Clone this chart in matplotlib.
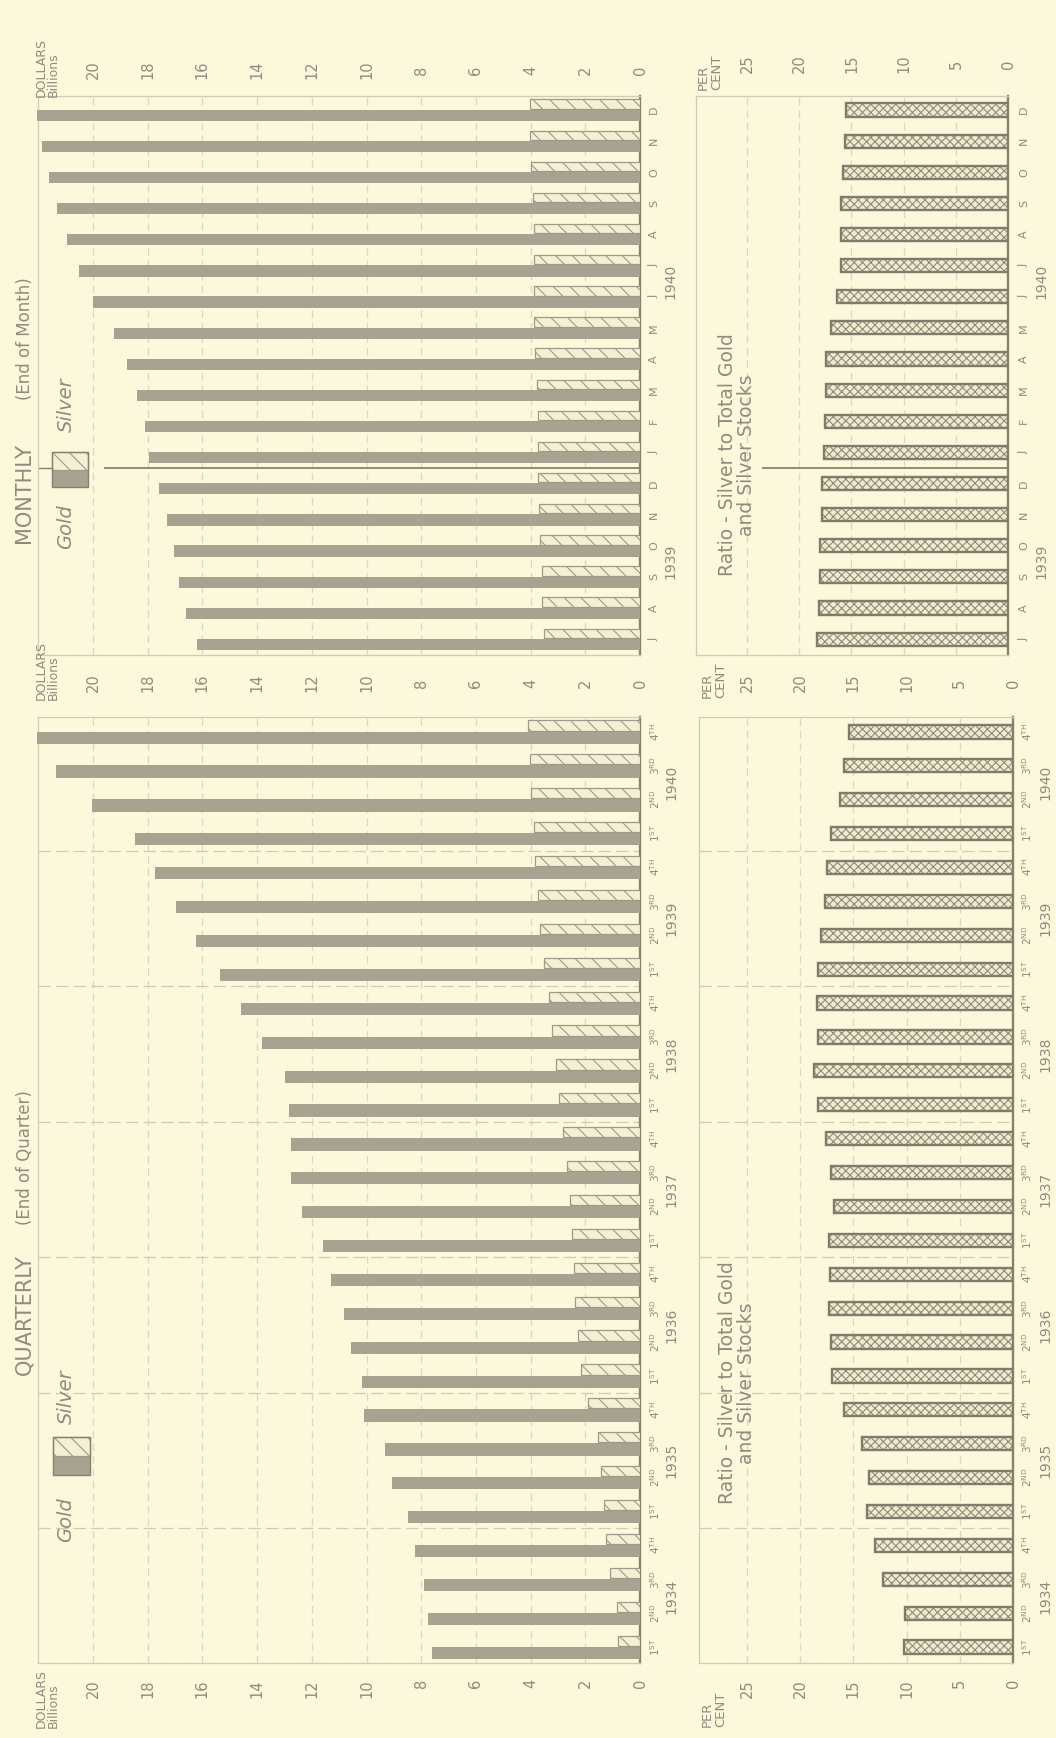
import numpy as np
import matplotlib
matplotlib.use('Agg')
import matplotlib.pyplot as plt
from matplotlib.patches import Rectangle
from matplotlib.transforms import blended_transform_factory as btf

# ---------------- data ----------------
quarters = ['1ST', '2ND', '3RD', '4TH']
q_years = ['1934', '1935', '1936', '1937', '1938', '1939', '1940']
q_gold = [7.60, 7.75, 7.90, 8.22,
          8.50, 9.06, 9.32, 10.10,
          10.18, 10.58, 10.83, 11.30,
          11.58, 12.35, 12.77, 12.77,
          12.82, 12.98, 13.83, 14.58,
          15.35, 16.22, 16.98, 17.75,
          18.48, 20.03, 21.35, 22.05]
q_silver = [0.80, 0.85, 1.08, 1.24,
            1.33, 1.44, 1.55, 1.90,
            2.16, 2.25, 2.36, 2.42,
            2.48, 2.56, 2.68, 2.80,
            2.95, 3.07, 3.20, 3.34,
            3.50, 3.64, 3.72, 3.84,
            3.88, 3.98, 4.02, 4.10]
q_ratio = [10.2, 10.1, 12.25, 13.0,
           13.7, 13.5, 14.2, 15.9,
           17.05, 17.1, 17.3, 17.2,
           17.25, 16.8, 17.1, 17.6,
           18.3, 18.7, 18.3, 18.4,
           18.3, 18.0, 17.7, 17.5,
           17.1, 16.3, 15.9, 15.4]

months = ['J', 'A', 'S', 'O', 'N', 'D', 'J', 'F', 'M', 'A', 'M', 'J',
          'J', 'A', 'S', 'O', 'N', 'D']
m_years = ['1939', '1940']
m_gold = [16.2, 16.6, 16.85, 17.05, 17.3, 17.6, 17.95, 18.1, 18.4, 18.75,
          19.25, 20.0, 20.5, 20.95, 21.3, 21.6, 21.85, 22.05]
m_silver = [3.50, 3.58, 3.58, 3.66, 3.70, 3.74, 3.74, 3.74, 3.77, 3.83,
            3.86, 3.89, 3.89, 3.89, 3.92, 3.97, 4.02, 4.03]
m_ratio = [18.3, 18.1, 18.0, 18.0, 17.8, 17.8, 17.6, 17.5, 17.4, 17.4,
           17.0, 16.4, 16.0, 16.0, 16.0, 15.8, 15.6, 15.5]

dollar_ticks = [0, 2, 4, 6, 8, 10, 12, 14, 16, 18, 20]
pct_ticks = [0, 5, 10, 15, 20, 25]

# ---------------- style ----------------
W, H = 1056, 1738
BG = '#fbf8dc'
TXT = '#8e8c7e'
GOLD = '#a6a391'
SFILL = '#f3f0d4'
SHATCH = '#9d9a88'
RFILL = '#eeebcf'
RHATCH = '#8f8c7b'
REDGE = '#7f7c6c'
AXIS = '#85826f'
LIGHT = '#cfccb4'
GRID = '#dbd8c0'

plt.rcParams['font.family'] = ['DejaVu Sans']
plt.rcParams['hatch.linewidth'] = 0.8

fig = plt.figure(figsize=(W / 100, H / 100), dpi=100, facecolor=BG)


def fx(x):
    return x / W


def fy(y):
    return 1 - y / H


def add_ax(l, r, t, b):
    ax = fig.add_axes([fx(l), fy(b), (r - l) / W, (b - t) / H])
    ax.set_facecolor('none')
    ax.set_xticks([])
    ax.set_yticks([])
    ax.spines['right'].set_color(AXIS)
    ax.spines['right'].set_linewidth(1.7)
    for s in ['top', 'left', 'bottom']:
        ax.spines[s].set_color(LIGHT)
        ax.spines[s].set_linewidth(0.9)
    return ax


# axes: quarterly dollars, quarterly ratio, monthly dollars, monthly ratio
qd = add_ax(38.3, 640, 717, 1663)
qd.set_xlim(22.0, 0)
qd.set_ylim(-0.47, 27.44)
qr = add_ax(699, 1013, 717, 1663)
qr.set_xlim(29.5, 0)
qr.set_ylim(-0.47, 27.44)
md = add_ax(38.3, 640, 96, 655)
md.set_xlim(22.0, 0)
md.set_ylim(-0.51, 17.45)
mr = add_ax(696, 1008, 96, 655)
mr.set_xlim(29.9, 0)
mr.set_ylim(-0.51, 17.45)

# gridlines
for ax in (qd, md):
    for v in dollar_ticks[1:]:
        ax.axvline(v, color=GRID, lw=0.9, ls=(0, (6, 4)), zorder=1)
for ax in (qr, mr):
    for v in pct_ticks[1:]:
        ax.axvline(v, color=GRID, lw=0.9, ls=(0, (6, 4)), zorder=1)

# year boundaries (quarterly)
for ax in (qd, qr):
    for k in range(1, len(q_years)):
        ax.axhline(4 * k - 0.5, color=LIGHT, lw=0.9, ls=(0, (10, 4)), zorder=1)
# Dec/Jan boundary (monthly)
md.hlines(5.5, 0, 19.6, color=AXIS, lw=1.3, zorder=2)
md.hlines(5.5, 21.2, 22.0, color=AXIS, lw=1.0, zorder=2)
mr.hlines(5.5, 0, 23.6, color=AXIS, lw=1.3, zorder=2)


def draw_dollar(ax, gold, silver):
    idx = np.arange(len(gold))
    ax.barh(idx - 0.17, gold, height=0.36, color=GOLD, edgecolor='none',
            clip_on=False, zorder=3)
    ax.barh(idx + 0.19, silver, height=0.30, color=SFILL, edgecolor=SHATCH,
            hatch='\\\\', linewidth=0.9, zorder=3)


def draw_ratio(ax, ratio, h):
    idx = np.arange(len(ratio))
    ax.barh(idx, ratio, height=h, color=RFILL, edgecolor=RHATCH,
            hatch='xxxx', linewidth=0, zorder=3)
    ax.barh(idx, ratio, height=h, fill=False, edgecolor=REDGE,
            linewidth=1.7, zorder=4)


draw_dollar(qd, q_gold, q_silver)
draw_dollar(md, m_gold, m_silver)
draw_ratio(qr, q_ratio, 0.39)
draw_ratio(mr, m_ratio, 0.42)

# category labels
q_labels = [r'%s$^{\mathregular{%s}}$' % (q[0], q[1:]) for q in quarters]
for i in range(len(q_gold)):
    for ax, xp in ((qd, 655), (qr, 1027)):
        ax.text(fx(xp), i, q_labels[i % 4], transform=btf(fig.transFigure, ax.transData),
                rotation=90, ha='center', va='center', fontsize=7.5, color=TXT)
for k, yr in enumerate(q_years):
    for ax, xp in ((qd, 671), (qr, 1045)):
        ax.text(fx(xp), 4 * k + 1.5, yr, transform=btf(fig.transFigure, ax.transData),
                rotation=90, ha='center', va='center', fontsize=10, color=TXT)
for i, m in enumerate(months):
    for ax, xp in ((md, 654), (mr, 1024)):
        ax.text(fx(xp), i, m, transform=btf(fig.transFigure, ax.transData),
                rotation=90, ha='center', va='center', fontsize=8, color=TXT)
for yr, pos in zip(m_years, [2.5, 11.5]):
    for ax, xp in ((md, 670), (mr, 1041)):
        ax.text(fx(xp), pos, yr, transform=btf(fig.transFigure, ax.transData),
                rotation=90, ha='center', va='center', fontsize=10, color=TXT)

# value tick labels
for v in dollar_ticks:
    qd.text(v, fy(1679), str(v), transform=btf(qd.transData, fig.transFigure),
            rotation=90, ha='center', va='top', fontsize=10.5, color=TXT)
    qd.text(v, fy(683), str(v), transform=btf(qd.transData, fig.transFigure),
            rotation=90, ha='center', va='center', fontsize=10.5, color=TXT)
    md.text(v, fy(70), str(v), transform=btf(md.transData, fig.transFigure),
            rotation=90, ha='center', va='center', fontsize=10.5, color=TXT)
for v in pct_ticks:
    qr.text(v, fy(1679), str(v), transform=btf(qr.transData, fig.transFigure),
            rotation=90, ha='center', va='top', fontsize=10.5, color=TXT)
    qr.text(v, fy(683), str(v), transform=btf(qr.transData, fig.transFigure),
            rotation=90, ha='center', va='center', fontsize=10.5, color=TXT)
    mr.text(v, fy(64), str(v), transform=btf(mr.transData, fig.transFigure),
            rotation=90, ha='center', va='center', fontsize=10.5, color=TXT)

# unit labels
for yb in (1728, 700, 97):
    fig.text(fx(47), fy(yb), 'DOLLARS\nBillions', rotation=90, ha='center', va='bottom',
             multialignment='left', linespacing=0.95, fontsize=9, color=TXT)
for xc, yb in ((714, 1727), (714, 698), (710, 90)):
    fig.text(fx(xc), fy(yb), 'PER\nCENT', rotation=90, ha='center', va='bottom',
             multialignment='left', linespacing=1.0, fontsize=9.5, color=TXT)

# titles
fig.text(fx(24), fy(543), 'MONTHLY', rotation=90, ha='center', va='bottom',
         fontsize=15, color=TXT)
fig.text(fx(25), fy(400), '(End of Month)', rotation=90, ha='center', va='bottom',
         fontsize=12, color=TXT)
fig.text(fx(24), fy(1375), 'QUARTERLY', rotation=90, ha='center', va='bottom',
         fontsize=15, color=TXT)
fig.text(fx(25), fy(1225), '(End of Quarter)', rotation=90, ha='center', va='bottom',
         fontsize=12, color=TXT)

# legends
for gy, box, sy in ((527, (52, 452, 88, 487), 405), (1520, (53, 1437, 90, 1475), 1397)):
    fig.text(fx(66), fy(gy), 'Gold', rotation=90, ha='center', va='center',
             style='italic', fontsize=14, color=TXT)
    fig.text(fx(66), fy(sy), 'Silver', rotation=90, ha='center', va='center',
             style='italic', fontsize=14, color=TXT)
    x0, y0, x1, y1 = box
    ym = (y0 + y1) / 2
    fig.add_artist(Rectangle((fx(x0), fy(y1)), (x1 - x0) / W, (y1 - ym) / H,
                             transform=fig.transFigure, facecolor=GOLD,
                             edgecolor='none'))
    fig.add_artist(Rectangle((fx(x0), fy(ym)), (x1 - x0) / W, (ym - y0) / H,
                             transform=fig.transFigure, facecolor=SFILL,
                             edgecolor=SHATCH, hatch='\\\\', linewidth=0.9))
    fig.add_artist(Rectangle((fx(x0), fy(y1)), (x1 - x0) / W, (y1 - y0) / H,
                             transform=fig.transFigure, fill=False,
                             edgecolor=AXIS, linewidth=1.0))

# ratio captions
for yc in (1383, 455):
    fig.text(fx(737), fy(yc), 'Ratio - Silver to Total Gold\nand Silver Stocks',
             rotation=90, ha='center', va='center', multialignment='center',
             linespacing=1.0, fontsize=13.5, color=TXT)

fig.savefig('out.png', dpi=100, facecolor=BG)
